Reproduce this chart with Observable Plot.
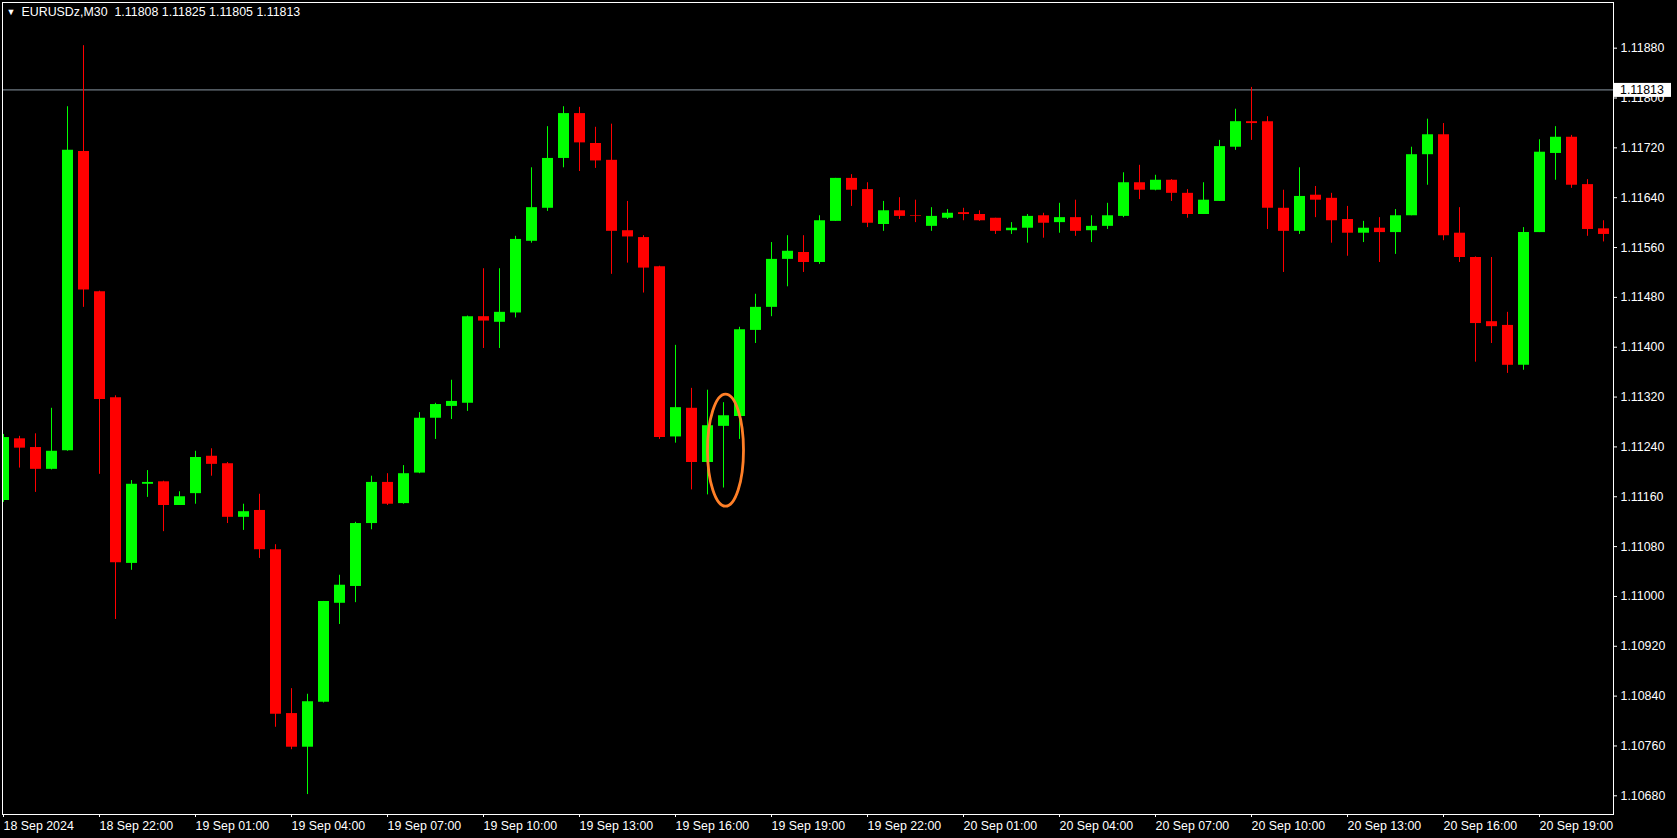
<!DOCTYPE html>
<html><head><meta charset="utf-8">
<script src="https://cdn.jsdelivr.net/npm/d3@7"></script>
<script src="https://cdn.jsdelivr.net/npm/@observablehq/plot@0.6"></script>
<style>
html,body{margin:0;padding:0;background:#000;overflow:hidden;}
#chart{width:1677px;height:838px;}
</style></head><body><div id="chart"></div>
<script>
// ---- data (EURUSDz, M30, first bar 18 Sep 2024 19:00) ----
const symbolLabel = "EURUSDz,M30";
const headerQuote = ["1.11808", "1.11825", "1.11805", "1.11813"];

const open = [
1.11154,1.11253,1.11239,1.11204,1.11234,1.11714,1.11489,1.11319,1.11053,1.11180,
1.11184,1.11146,1.11165,1.11225,1.11213,1.11127,1.11138,1.11075,1.10812,1.10758,
1.10830,1.10989,1.11016,1.11117,1.11183,1.11149,1.11198,1.11286,1.11305,1.11310,
1.11449,1.11440,1.11455,1.11570,1.11623,1.11703,1.11775,1.11727,1.11700,1.11587,
1.11576,1.11529,1.11256,1.11302,1.11215,1.11273,1.11289,1.11427,1.11464,1.11541,
1.11552,1.11536,1.11602,1.11671,1.11653,1.11597,1.11619,1.11611,1.11594,1.11607,
1.11616,1.11613,1.11607,1.11587,1.11591,1.11611,1.11600,1.11608,1.11587,1.11594,
1.11610,1.11664,1.11652,1.11668,1.11647,1.11613,1.11634,1.11721,1.11762,1.11762,
1.11623,1.11586,1.11644,1.11639,1.11605,1.11583,1.11591,1.11584,1.11611,1.11709,
1.11741,1.11583,1.11544,1.11441,1.11435,1.11371,1.11584,1.11711,1.11737,1.11661,
1.11590];
const high = [
1.11260,1.11257,1.11261,1.11302,1.11786,1.11884,1.11490,1.11322,1.11186,1.11202,
1.11185,1.11168,1.11233,1.11237,1.11215,1.11148,1.11164,1.11083,1.10852,1.10843,
1.10992,1.11034,1.11119,1.11193,1.11197,1.11210,1.11295,1.11310,1.11347,1.11450,
1.11526,1.11526,1.11578,1.11688,1.11754,1.11786,1.11785,1.11753,1.11758,1.11634,
1.11579,1.11530,1.11403,1.11334,1.11331,1.11311,1.11432,1.11485,1.11568,1.11579,
1.11579,1.11611,1.11671,1.11677,1.11664,1.11634,1.11640,1.11636,1.11624,1.11621,
1.11623,1.11619,1.11607,1.11600,1.11613,1.11615,1.11631,1.11636,1.11611,1.11631,
1.11680,1.11692,1.11676,1.11669,1.11653,1.11664,1.11732,1.11782,1.11817,1.11770,
1.11652,1.11688,1.11658,1.11647,1.11626,1.11602,1.11608,1.11621,1.11721,1.11766,
1.11759,1.11624,1.11545,1.11544,1.11456,1.11592,1.11733,1.11754,1.11740,1.11669,
1.11603];
const low = [
1.11151,1.11206,1.11167,1.11203,1.11233,1.11464,1.11196,1.10963,1.11042,1.11159,
1.11104,1.11146,1.11148,1.11193,1.11117,1.11106,1.11061,1.10790,1.10754,1.10682,
1.10829,1.10955,1.10990,1.11107,1.11146,1.11148,1.11197,1.11252,1.11284,1.11297,
1.11398,1.11398,1.11447,1.11567,1.11618,1.11688,1.11682,1.11687,1.11517,1.11535,
1.11487,1.11252,1.11246,1.11171,1.11163,1.11174,1.11252,1.11406,1.11449,1.11497,
1.11520,1.11533,1.11602,1.11626,1.11592,1.11586,1.11605,1.11600,1.11586,1.11605,
1.11603,1.11602,1.11581,1.11581,1.11567,1.11575,1.11583,1.11578,1.11568,1.11589,
1.11608,1.11637,1.11651,1.11634,1.11607,1.11613,1.11634,1.11716,1.11732,1.11589,
1.11520,1.11581,1.11608,1.11567,1.11546,1.11568,1.11536,1.11549,1.11611,1.11660,
1.11571,1.11536,1.11376,1.11406,1.11358,1.11363,1.11584,1.11668,1.11655,1.11578,
1.11569];
const close = [
1.11255,1.11238,1.11204,1.11233,1.11716,1.11492,1.11316,1.11054,1.11180,1.11183,
1.11146,1.11160,1.11223,1.11212,1.11127,1.11136,1.11075,1.10811,1.10758,1.10831,
1.10992,1.11018,1.11117,1.11183,1.11148,1.11197,1.11286,1.11308,1.11313,1.11449,
1.11442,1.11456,1.11573,1.11624,1.11703,1.11775,1.11728,1.11699,1.11586,1.11577,
1.11527,1.11255,1.11303,1.11215,1.11274,1.11290,1.11428,1.11464,1.11541,1.11554,
1.11536,1.11603,1.11671,1.11652,1.11599,1.11619,1.11610,1.11610,1.11610,1.11615,
1.11613,1.11603,1.11586,1.11591,1.11610,1.11599,1.11608,1.11586,1.11594,1.11611,
1.11664,1.11652,1.11668,1.11647,1.11613,1.11636,1.11722,1.11762,1.11759,1.11623,
1.11586,1.11642,1.11636,1.11603,1.11583,1.11591,1.11584,1.11611,1.11709,1.11741,
1.11579,1.11544,1.11438,1.11433,1.11371,1.11584,1.11713,1.11737,1.11660,1.11589,
1.11581];

const priceTicks = [1.10680,1.10760,1.10840,1.10920,1.11000,1.11080,1.11160,1.11240,
                    1.11320,1.11400,1.11480,1.11560,1.11640,1.11720,1.11800,1.11880];
const timeTickBars = [0,6,12,18,24,30,36,42,48,54,60,66,72,78,84,90,96];
const timeTickLabels = ["18 Sep 2024","18 Sep 22:00","19 Sep 01:00","19 Sep 04:00","19 Sep 07:00",
  "19 Sep 10:00","19 Sep 13:00","19 Sep 16:00","19 Sep 19:00","19 Sep 22:00","20 Sep 01:00",
  "20 Sep 04:00","20 Sep 07:00","20 Sep 10:00","20 Sep 13:00","20 Sep 16:00","20 Sep 19:00"];

const currentPrice = 1.11813;
const circledBars = [44.0, 46.25];          // highlighted candle (bar 45)
const circledPrices = [1.11144, 1.11324];

// ---- build ----
const bars = open.map((o, i) => ({i, o, h: high[i], l: low[i], c: close[i]}));
const up = bars.filter(d => d.c >= d.o);
const dn = bars.filter(d => d.c < d.o);
const GREEN = "#00ff00", RED = "#ff0000";
const FONT = "'Liberation Sans', Arial, sans-serif";
const title = symbolLabel + "\u00a0\u00a0" + headerQuote.join(" ");

const W = 1677, H = 838;
const plot = Plot.plot({
  width: W, height: H,
  marginLeft: 2, marginRight: 64, marginTop: 2, marginBottom: 24,
  style: {background: "#000", color: "#fff", fontFamily: FONT, fontSize: "12.4px", overflow: "visible"},
  x: {type: "linear", domain: [-0.0625, 100.625], label: null},
  y: {type: "linear", domain: [1.10650, 1.119533], label: null},
  marks: [
    Plot.ruleY([currentPrice], {stroke: "#8a96a3", strokeWidth: 1}),
    Plot.ruleX(up, {x: "i", y1: "l", y2: "h", stroke: GREEN, strokeWidth: 1, clip: true}),
    Plot.ruleX(dn, {x: "i", y1: "l", y2: "h", stroke: RED, strokeWidth: 1, clip: true}),
    Plot.ruleX(up, {x: "i", y1: "o", y2: "c", stroke: GREEN, strokeWidth: 11, clip: true}),
    Plot.ruleX(dn, {x: "i", y1: "o", y2: "c", stroke: RED, strokeWidth: 11, clip: true}),
    Plot.frame({stroke: "#fff", strokeWidth: 1}),
    Plot.axisY(priceTicks, {anchor: "right", tickSize: 3, tickPadding: 4,
      tickFormat: d3.format(".5f"), label: null, fill: "#fff", stroke: "#fff", fontSize: 12.4}),
    Plot.axisX(timeTickBars, {anchor: "bottom", tickSize: 3, tickPadding: 4,
      tickFormat: d => timeTickLabels[timeTickBars.indexOf(d)], textAnchor: "start",
      label: null, fill: "#fff", stroke: "#fff", fontSize: 12.4}),
    Plot.text(["\u25BC"], {frameAnchor: "top-left", text: d => d, textAnchor: "start",
      lineAnchor: "top", dx: 4, dy: 6, fill: "#fff", fontSize: 9}),
    Plot.text([title], {frameAnchor: "top-left", text: d => d, textAnchor: "start",
      lineAnchor: "top", dx: 19, dy: 5, fill: "#fff", fontSize: 12.4})
  ]
});

// annotations drawn with the plot's own scales
const xs = plot.scale("x"), ys = plot.scale("y");
const svg = d3.select(plot);
const xa = xs.apply(circledBars[0]), xb = xs.apply(circledBars[1]);
const ya = ys.apply(circledPrices[1]), yb = ys.apply(circledPrices[0]);
svg.append("ellipse")
  .attr("cx", (xa + xb) / 2 + 0.5).attr("cy", (ya + yb) / 2)
  .attr("rx", (xb - xa) / 2).attr("ry", (yb - ya) / 2)
  .attr("fill", "none").attr("stroke", "#ff7f27").attr("stroke-width", 2.8);

const yp = ys.apply(currentPrice) + 0.5;
const xr = W - 64;
svg.append("rect").attr("x", xr + 1).attr("y", yp - 7).attr("width", 57).attr("height", 14)
  .attr("fill", "#fff");
svg.append("text").attr("x", xr + 7).attr("y", yp).attr("dy", "0.35em")
  .attr("text-anchor", "start")
  .attr("fill", "#000").attr("font-family", FONT).attr("font-size", "12.4px")
  .text(d3.format(".5f")(currentPrice));

document.getElementById("chart").appendChild(plot);
</script>
</body></html>
